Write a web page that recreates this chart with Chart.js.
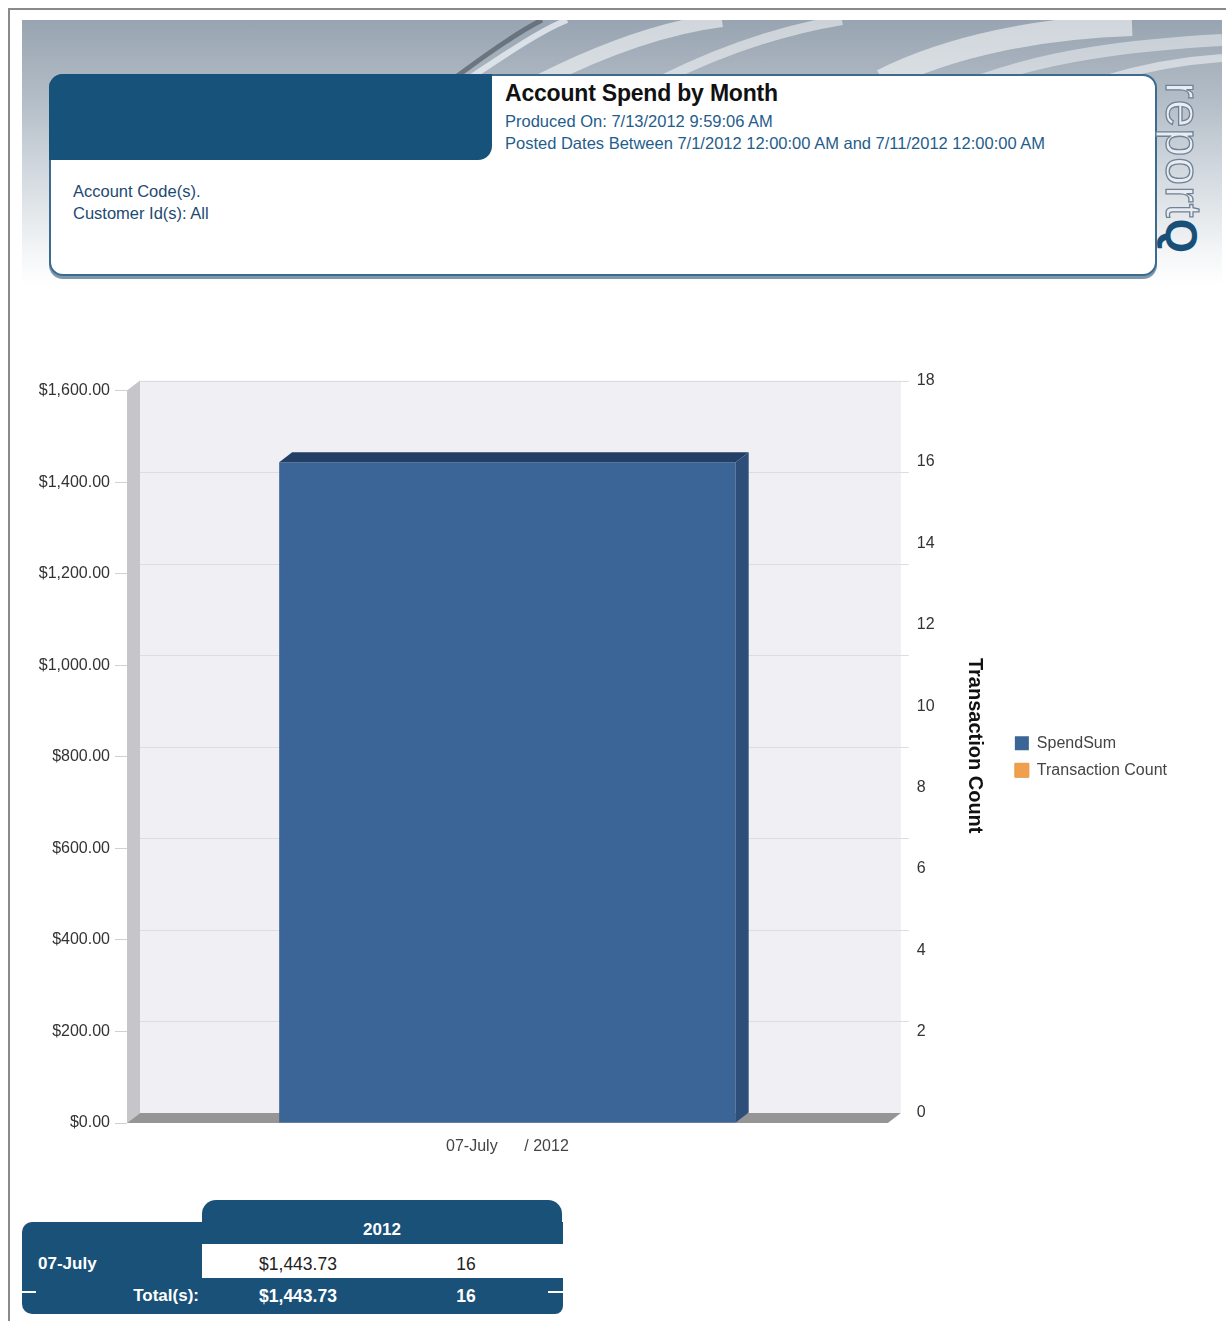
<!DOCTYPE html>
<html>
<head>
<meta charset="utf-8">
<title>Account Spend by Month</title>
<script src="https://cdn.jsdelivr.net/npm/chart.js@4.4.1/dist/chart.umd.min.js"></script>
<style>
  body { margin:0; width:1226px; height:1321px; background:#fff; position:relative; overflow:hidden;
         font-family:"Liberation Sans", Arial, sans-serif; }
  .frameTop { position:absolute; left:8px; top:8px; width:1218px; height:2px; background:#8a8a8a; }
  .frameLeft { position:absolute; left:8px; top:8px; width:2px; height:1313px; background:#8a8a8a; }
  .banner { position:absolute; left:22px; top:20px; width:1200px; height:265px;
            background:linear-gradient(to bottom, #98a4b1 0%, #b3bdc7 30%, #d5dbe1 60%, #f4f6f7 88%, #fff 100%); }
  .banner svg { position:absolute; left:0; top:0; }
  .card { position:absolute; left:49px; top:74px; width:1104px; height:198px; background:#fff;
          border:2px solid #3c6b90; border-radius:14px; box-shadow:0 3px 0 #7d98ae; }
  .tab { position:absolute; left:-2px; top:-2px; width:443px; height:86px; background:#17527a;
         border-radius:14px 0 14px 0; }
  .title { position:absolute; left:454px; top:4px; font-size:23px; font-weight:bold; color:#111; letter-spacing:-0.2px; }
  .sub { position:absolute; left:454px; font-size:16.5px; color:#1f5d8c; }
  .meta { position:absolute; left:22px; font-size:16.5px; color:#1d4a72; }
  .logo { position:absolute; left:1208px; top:82px; transform-origin:0 0; transform:rotate(90deg);
          font-size:50px; color:#e9edf1; -webkit-text-stroke:1.3px #6f8296; letter-spacing:1px; white-space:nowrap; line-height:50px; }
  .logo b { color:#174f78; -webkit-text-stroke:0; font-weight:bold; font-size:44px; }
  #chartBox { position:absolute; left:20px; top:360px; width:1190px; height:822px; }
  .tbl { position:absolute; color:#fff; font-weight:bold; font-size:17px; }
  .cell { position:absolute; text-align:center; font-size:17.5px; }
</style>
</head>
<body>
<div class="frameTop"></div>
<div class="frameLeft"></div>

<div class="banner">
  <svg width="1200" height="265">
    <path d="M430 60 C 470 30, 500 10, 520 0" stroke="#5c6772" stroke-width="5" fill="none" opacity="0.8"/>
    <path d="M445 60 C 490 30, 520 10, 545 0" stroke="#e8edf2" stroke-width="6" fill="none" opacity="0.8"/>
    <path d="M520 60 C 600 20, 660 5, 700 0" stroke="#ffffff" stroke-width="14" fill="none" opacity="0.55"/>
    <path d="M640 60 C 700 30, 760 10, 820 0" stroke="#ffffff" stroke-width="10" fill="none" opacity="0.5"/>
    <path d="M860 60 C 930 25, 1020 8, 1110 5" stroke="#ffffff" stroke-width="22" fill="none" opacity="0.55"/>
    <path d="M960 60 C 1030 35, 1110 25, 1200 20" stroke="#ffffff" stroke-width="12" fill="none" opacity="0.45"/>
    <path d="M1080 60 C 1130 45, 1170 40, 1200 38" stroke="#ffffff" stroke-width="8" fill="none" opacity="0.5"/>
  </svg>
</div>

<div class="card">
  <div class="tab"></div>
  <div class="title">Account Spend by Month</div>
  <div class="sub" style="top:36px">Produced On: 7/13/2012 9:59:06 AM</div>
  <div class="sub" style="top:58px">Posted Dates Between 7/1/2012 12:00:00 AM and 7/11/2012 12:00:00 AM</div>
  <div class="meta" style="top:106px">Account Code(s).</div>
  <div class="meta" style="top:128px">Customer Id(s): All</div>
</div>
<div class="logo">report<b>Q</b></div>

<div id="chartBox"><canvas id="mycanvas"></canvas></div>

<div id="tableBox"></div>

<script>
// chart values
var categories = ['07-July      / 2012'];
var spendSum = [1443.73];
var transactionCount = [16];
var seriesNames = ['SpendSum', 'Transaction Count'];
var yearLabel = '2012';
var totalLabel = 'Total(s):';

// 3D offset of the back wall
var dx = 13, dy = -10;

function money(v){
    return '$' + Number(v).toLocaleString('en-US', {minimumFractionDigits:2, maximumFractionDigits:2});
}

var box3d = {
    id: 'box3d',
    beforeDatasetsDraw: function(chart){
        var a = chart.chartArea, c = chart.ctx;
        c.save();
        // back wall
        c.fillStyle = '#efeff4';
        c.fillRect(a.left + dx, a.top + dy, a.right - a.left, a.bottom - a.top);
        // left wall
        c.fillStyle = '#c5c5ca';
        c.beginPath();
        c.moveTo(a.left, a.top); c.lineTo(a.left + dx, a.top + dy);
        c.lineTo(a.left + dx, a.bottom + dy); c.lineTo(a.left, a.bottom);
        c.closePath(); c.fill();
        // grid lines on the back wall
        var ys = chart.scales.y;
        c.strokeStyle = '#dcdce3';
        c.lineWidth = 1;
        ys.ticks.forEach(function(t){
            if (t.value === 0) return;
            var py = Math.round(ys.getPixelForValue(t.value) + dy) + 0.5;
            c.beginPath();
            c.moveTo(a.left + dx, py);
            c.lineTo(a.right + dx + 8, py);
            c.stroke();
        });
        // floor
        c.fillStyle = '#959595';
        c.beginPath();
        c.moveTo(a.left, a.bottom); c.lineTo(a.left + dx, a.bottom + dy);
        c.lineTo(a.right + dx, a.bottom + dy); c.lineTo(a.right, a.bottom);
        c.closePath(); c.fill();
        c.restore();
    },
    afterDatasetsDraw: function(chart){
        var c = chart.ctx;
        var meta = chart.getDatasetMeta(0);
        c.save();
        meta.data.forEach(function(bar){
            var p = bar.getProps(['x', 'y', 'width', 'base'], true);
            var l = p.x - p.width / 2, r = p.x + p.width / 2;
            c.fillStyle = '#243f66';
            c.beginPath();
            c.moveTo(l, p.y); c.lineTo(l + dx, p.y + dy);
            c.lineTo(r + dx, p.y + dy); c.lineTo(r, p.y);
            c.closePath(); c.fill();
            c.fillStyle = '#2c4e78';
            c.beginPath();
            c.moveTo(r, p.y); c.lineTo(r + dx, p.y + dy);
            c.lineTo(r + dx, p.base + dy); c.lineTo(r, p.base);
            c.closePath(); c.fill();
        });
        c.restore();
    }
};

function createBarGraph(){
    var chartData = {
        labels: categories,
        datasets: [
            {
                type: 'bar',
                label: seriesNames[0],
                backgroundColor: '#3b6596',
                borderWidth: 0,
                yAxisID: 'y',
                data: spendSum,
                categoryPercentage: 0.6,
                barPercentage: 1
            },
            {
                type: 'line',
                label: seriesNames[1],
                backgroundColor: '#f0a04c',
                borderColor: '#e8984a',
                borderWidth: 1,
                pointRadius: 0,
                yAxisID: 'y1',
                data: transactionCount
            }
        ]
    };

    var ctx = document.getElementById('mycanvas');
    new Chart(ctx, {
        data: chartData,
        plugins: [box3d],
        options: {
            responsive: true,
            maintainAspectRatio: false,
            animation: false,
            layout: { padding: { top: 21, right: 33, bottom: 0, left: 0 } },
            plugins: {
                tooltip: { enabled: false },
                legend: {
                    position: 'right',
                    fullSize: false,
                    labels: {
                        boxWidth: 14, boxHeight: 14, padding: 11,
                        color: '#444',
                        font: { family: 'Liberation Sans', size: 16 }
                    }
                }
            },
            scales: {
                x: {
                    grid: { display: false },
                    border: { display: false },
                    ticks: { color: '#444', padding: 6, font: { family: 'Liberation Sans', size: 16 } },
                    afterFit: function(s){ s.height = 59; }
                },
                y: {
                    position: 'left',
                    min: 0, max: 1600,
                    ticks: { stepSize: 200, padding: 5, color: '#333',
                             font: { family: 'Liberation Sans', size: 16 },
                             callback: function(v){ return money(v); } },
                    grid: { drawOnChartArea: false, tickLength: 12, color: '#d0d0d6' },
                    border: { display: false },
                    afterFit: function(s){ s.width = 107; }
                },
                y1: {
                    position: 'right',
                    min: 0, max: 18,
                    ticks: { stepSize: 2, padding: 21, labelOffset: dy, color: '#333',
                             font: { family: 'Liberation Sans', size: 16 } },
                    grid: { display: false },
                    border: { display: false },
                    title: { display: true, text: 'Transaction Count    ', color: '#111',
                             padding: { top: 17, bottom: 4 },
                             font: { family: 'Liberation Sans', size: 20, weight: 'bold' } },
                    afterFit: function(s){ s.width = 116; }
                }
            }
        }
    });
}

function createTable(){
    var box = document.getElementById('tableBox');
    var html = '';
    html += '<div style="position:absolute;left:202px;top:1200px;width:360px;height:50px;background:#1a5179;border-radius:14px 14px 0 0"></div>';
    html += '<div style="position:absolute;left:22px;top:1222px;width:541px;height:92px;background:#1a5179;border-radius:10px 0 8px 10px"></div>';
    html += '<div class="tbl" style="left:202px;top:1220px;width:360px;text-align:center">' + yearLabel + '</div>';
    for (var i = 0; i < categories.length; i++){
        var top = 1244 + i * 36;
        html += '<div style="position:absolute;left:202px;top:' + top + 'px;width:361px;height:34px;background:#fff"></div>';
        html += '<div class="tbl" style="left:38px;top:' + (top + 10) + 'px">' + categories[i].split(' ')[0] + '</div>';
        html += '<div class="cell" style="left:202px;top:' + (top + 10) + 'px;width:192px;color:#222">' + money(spendSum[i]) + '</div>';
        html += '<div class="cell" style="left:394px;top:' + (top + 10) + 'px;width:144px;color:#222">' + transactionCount[i] + '</div>';
    }
    var sumSpend = spendSum.reduce(function(a, b){ return a + b; }, 0);
    var sumCount = transactionCount.reduce(function(a, b){ return a + b; }, 0);
    var tt = 1244 + categories.length * 36 + 6;
    html += '<div class="tbl" style="left:22px;top:' + tt + 'px;width:177px;text-align:right">' + totalLabel + '</div>';
    html += '<div class="tbl cell" style="left:202px;top:' + tt + 'px;width:192px">' + money(sumSpend) + '</div>';
    html += '<div class="tbl cell" style="left:394px;top:' + tt + 'px;width:144px">' + sumCount + '</div>';
    html += '<div style="position:absolute;left:22px;top:1291px;width:14px;height:2px;background:#fff"></div>';
    html += '<div style="position:absolute;left:548px;top:1291px;width:15px;height:2px;background:#fff"></div>';
    box.innerHTML = html;
}

createBarGraph();
createTable();
</script>
</body>
</html>
